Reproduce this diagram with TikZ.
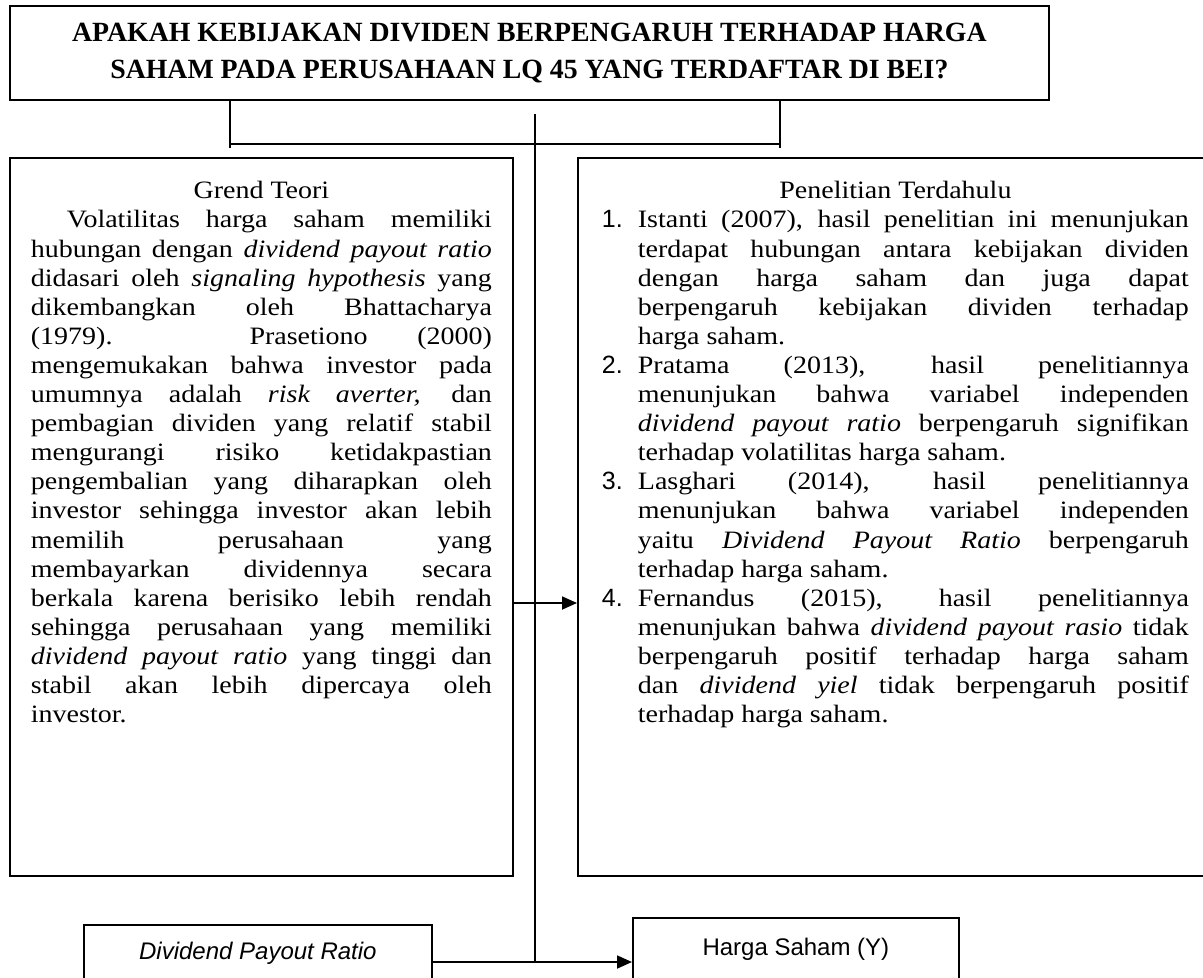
\documentclass[tikz,border=0pt]{standalone}
\usepackage{fontspec}
\setmainfont{Liberation Serif}[FakeStretch=1.12]
\setsansfont{Liberation Sans}
\newfontfamily\judulfont{Liberation Serif}
\usepackage{tikz}
\usetikzlibrary{arrows.meta,positioning,calc}

\tikzset{
  kotak/.style={draw, line width=0.9pt, inner sep=0pt, anchor=north west, align=left},
  panah/.style={line width=0.9pt, -{Triangle[length=7.5pt,width=6.5pt]}},
  garis/.style={line width=0.9pt}
}
\newcommand{\isiteks}{\fontsize{12.5}{14.55}\selectfont\tolerance=10000\hyphenpenalty=10000\parindent=0pt\parskip=0pt}
\newcommand{\butir}[1]{\noindent\hangindent=18pt\hangafter=1\makebox[18pt][l]{\textsf{#1}}}

\begin{document}
\begin{tikzpicture}[x=0.5pt, y=-0.5pt]
  \useasboundingbox (0,0) rectangle (1203,978);
  \clip (0,0) rectangle (1203,978);

  % pertanyaan penelitian
  \node[draw, line width=0.9pt, anchor=north west, minimum width=519.5pt, minimum height=47pt, align=center,
        font=\judulfont\fontsize{13.9}{18.5}\selectfont\bfseries] (tanya) at (9,5)
        {APAKAH KEBIJAKAN DIVIDEN BERPENGARUH TERHADAP HARGA\\
         SAHAM PADA PERUSAHAAN LQ 45 YANG TERDAFTAR DI BEI?};

  % grand theory
  \node[kotak, inner xsep=10.5pt] (teori) at (9,157) {%
    \begin{minipage}[t][359pt][t]{230.5pt}\isiteks
      \vspace*{8.5pt}
      {\centering\rule{0pt}{12pt}Grend Teori\par}
      \noindent\hspace*{18pt}Volatilitas harga saham memiliki\linebreak
      hubungan dengan \textit{dividend payout ratio}\linebreak
      didasari oleh \textit{signaling hypothesis} yang\linebreak
      dikembangkan oleh Bhattacharya\linebreak
      (1979). Prasetiono (2000)\linebreak
      mengemukakan bahwa investor pada\linebreak
      umumnya adalah \textit{risk averter,} dan\linebreak
      pembagian dividen yang relatif stabil\linebreak
      mengurangi risiko ketidakpastian\linebreak
      pengembalian yang diharapkan oleh\linebreak
      investor sehingga investor akan lebih\linebreak
      memilih perusahaan yang\linebreak
      membayarkan dividennya secara\linebreak
      berkala karena berisiko lebih rendah\linebreak
      sehingga perusahaan yang memiliki\linebreak
      \textit{dividend payout ratio} yang tinggi dan\linebreak
      stabil akan lebih dipercaya oleh\linebreak
      investor.\par
    \end{minipage}};

  % penelitian terdahulu
  \node[kotak, inner xsep=12pt] (terdahulu) at (577,157) {%
    \begin{minipage}[t][359pt][t]{293.5pt}\isiteks
      \vspace*{8.5pt}
      {\centering\rule{0pt}{12pt}Penelitian Terdahulu\par}
      \butir{1.}Istanti (2007), hasil penelitian ini menunjukan\linebreak
      terdapat hubungan antara kebijakan dividen\linebreak
      dengan harga saham dan juga dapat\linebreak
      berpengaruh kebijakan dividen terhadap\linebreak
      harga saham.\par
      \butir{2.}Pratama (2013), hasil penelitiannya\linebreak
      menunjukan bahwa variabel independen\linebreak
      \textit{dividend payout ratio} berpengaruh signifikan\linebreak
      terhadap volatilitas harga saham.\par
      \butir{3.}Lasghari (2014), hasil penelitiannya\linebreak
      menunjukan bahwa variabel independen\linebreak
      yaitu \textit{Dividend Payout Ratio} berpengaruh\linebreak
      terhadap harga saham.\par
      \butir{4.}Fernandus (2015), hasil penelitiannya\linebreak
      menunjukan bahwa \textit{dividend payout rasio} tidak\linebreak
      berpengaruh positif terhadap harga saham\linebreak
      dan \textit{dividend yiel} tidak berpengaruh positif\linebreak
      terhadap harga saham.\par
    \end{minipage}};

  % variabel
  \node[draw, line width=0.9pt, anchor=north west, minimum width=174pt, minimum height=28pt,
        font=\sffamily\itshape\fontsize{12}{14}\selectfont] (dpr) at (83,924) {Dividend Payout Ratio};
  \node[draw, line width=0.9pt, anchor=north west, minimum width=163pt, minimum height=31pt,
        font=\sffamily\fontsize{12}{14}\selectfont] (harga) at (632,917) {Harga Saham (Y)};

  % kerangka garis
  \coordinate (kiri) at (230,144);
  \coordinate (kanan) at (780,144);
  \coordinate (atas) at (535,114);
  \coordinate (tengah) at (535,603);
  \coordinate (bawah) at (535,962);

  \draw[garis] (tanya.south -| kiri) -- ($(kiri)+(0,4)$);
  \draw[garis] (tanya.south -| kanan) -- ($(kanan)+(0,4)$);
  \draw[garis] (kiri) -- (kanan);
  \draw[garis] (atas) -- (bawah);
  \draw[panah] (teori.east |- tengah) -- (terdahulu.west |- tengah);
  \draw[panah] (dpr.east |- bawah) -- (harga.west |- bawah);
\end{tikzpicture}
\end{document}
